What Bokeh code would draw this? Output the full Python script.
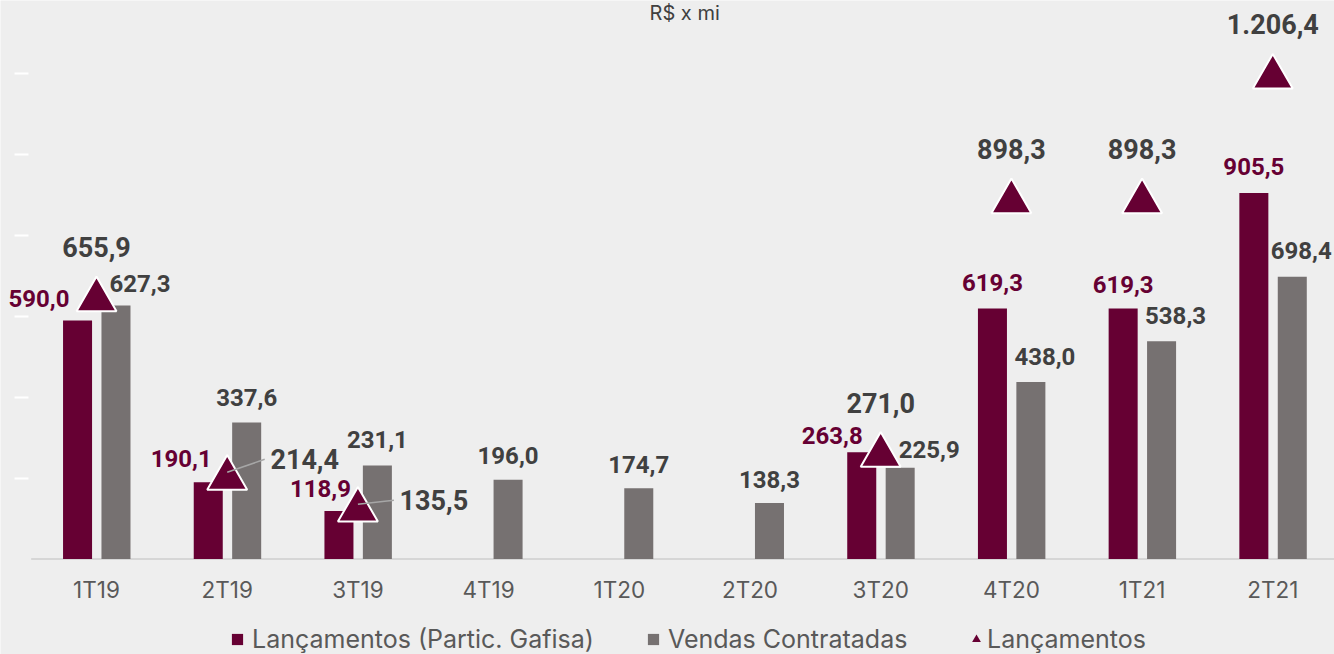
import numpy as np
from bokeh.plotting import figure
from bokeh.models import Range1d, FixedTicker, ColumnDataSource, Legend, LegendItem, LinearAxis
from bokeh.core.properties import value
from bokeh.embed import file_html
from bokeh.resources import INLINE

# ---------------- data ----------------
categories = ["1T19", "2T19", "3T19", "4T19", "1T20", "2T20", "3T20", "4T20", "1T21", "2T21"]
lanc_gafisa = [590.0, 190.1, 118.9, 0.0, 0.0, 0.0, 263.8, 619.3, 619.3, 905.5]
vendas = [627.3, 337.6, 231.1, 196.0, 174.7, 138.3, 225.9, 438.0, 538.3, 698.4]
lanc_total = [655.9, 214.4, 135.5, None, None, None, 271.0, 898.3, 898.3, 1206.4]
y_ticks = [200, 400, 600, 800, 1000, 1200]

# ---------------- label placement (style, screen px; dy = up) ----------------
gafisa_dx = [-38.5, -27, -18.5, 0, 0, 0, -29.5, 0, 0, 0]
gafisa_dy = [22, 24, 22, 0, 0, 0, 17, 26, 24, 26]
vendas_dx = [24, 0, 0, 0, 0, 0, 29, 14, 14, 9]
vendas_dy = [22, 25, 26, 24, 24, 24, 18, 25, 26, 26]
total_dx = [0, 77.5, 76, 0, 0, 0, 0, 0, 0, 0]
total_dy = [47, 13, 4, 0, 0, 0, 46, 47, 47, 47]

MAROON = "#660033"
GRAY = "#767171"
DARK = "#404040"
AXIS_TXT = "#595959"
BG = "#EEEEEE"

W, H = 1334, 654
X_STEP = 130.7          # px per category
X0 = 96.0               # px of first category from frame left
PXU = 0.4043            # px per data unit
BASE = 558.5            # px of y=0 from frame top

x_start = -X0 / X_STEP
x_end = x_start + W / X_STEP
y_end = BASE / PXU
y_start = -(H - BASE) / PXU

n = len(categories)
idx = list(range(n))


def fmt(v):
    s = f"{v:,.1f}"
    return s.replace(",", "X").replace(".", ",").replace("X", ".")


p = figure(width=W, height=H, output_backend="svg", toolbar_location=None,
           x_range=Range1d(x_start, x_end), y_range=Range1d(y_start, y_end),
           x_axis_location=None, y_axis_location=None, min_border=0,
           background_fill_color=BG, border_fill_color=BG, outline_line_color=None)
p.grid.visible = False

# x axis (category labels) fixed at y=0
xaxis = LinearAxis(fixed_location=0, ticker=FixedTicker(ticks=idx),
                   major_label_overrides={i: c for i, c in enumerate(categories)},
                   axis_line_color=None, major_tick_line_color=None, minor_tick_line_color=None,
                   major_label_standoff=11, major_label_text_font_size="22.5px",
                   major_label_text_color=AXIS_TXT, major_label_text_font="Inter")
p.add_layout(xaxis, "below")

# faint white y ticks on the left
yaxis = LinearAxis(fixed_location=x_start + 28 / X_STEP, ticker=FixedTicker(ticks=y_ticks),
                   axis_line_color=None, major_tick_line_color="white", major_tick_line_width=2,
                   major_tick_in=0, major_tick_out=14, minor_tick_line_color=None,
                   major_label_text_alpha=0, major_label_text_font_size="1px")
p.add_layout(yaxis, "left")

# baseline
p.segment(x0=[-0.5], x1=[n - 0.5], y0=[0], y1=[0], line_color="#D6D6D6", line_width=2)

OFF_G = -0.145
OFF_V = 0.149
BW = 0.222

src = ColumnDataSource(dict(
    xg=[i + OFF_G for i in idx], xv=[i + OFF_V for i in idx], x=idx,
    gafisa=lanc_gafisa, vendas=vendas,
))
r_g = p.vbar(x="xg", top="gafisa", width=BW, source=src, fill_color=MAROON, line_color=None)
r_v = p.vbar(x="xv", top="vendas", width=BW, source=src, fill_color=GRAY, line_color=None)

# triangle markers (box centred on the value)
tri_size = 40
tri_shift = (tri_size * 0.866 / 6) / PXU
tot_vals = [np.nan if v is None else v for v in lanc_total]
tri_src = ColumnDataSource(dict(x=idx, y=[v - tri_shift for v in tot_vals]))
r_t = p.scatter(x="x", y="y", source=tri_src, marker="triangle", size=tri_size,
                fill_color=MAROON, line_color="white", line_width=2)
# legend proxy (solid small triangle, a single undrawn NaN point)
r_t_leg = p.scatter(x=[np.nan], y=[np.nan], marker="triangle", size=8,
                    fill_color=MAROON, line_color=None)

# leader lines for side labels
lx0, lx1, ly0, ly1 = [], [], [], []
for i, v in enumerate(lanc_total):
    if v is not None and total_dx[i] != 0:
        lx0.append(i)
        ly0.append(v)
        lx1.append(i + (total_dx[i] - 40) / X_STEP)
        ly1.append(v + total_dy[i] / PXU)
p.segment(x0=lx0, x1=lx1, y0=ly0, y1=ly1, line_color="#A6A6A6", line_width=1.5)

# labels
gx, gy, gt, gdx, gdy = [], [], [], [], []
for i, v in enumerate(lanc_gafisa):
    if v > 0:
        gx.append(i + OFF_G); gy.append(v); gt.append(fmt(v))
        gdx.append(gafisa_dx[i]); gdy.append(-gafisa_dy[i])
p.text(x=gx, y=gy, text=gt, x_offset=gdx, y_offset=gdy, text_align="center",
       text_baseline="middle", text_font=value("Roboto"), text_font_style="bold",
       text_font_size="24px", text_color=MAROON)

p.text(x=[i + OFF_V for i in idx], y=vendas, text=[fmt(v) for v in vendas],
       x_offset=vendas_dx, y_offset=[-d for d in vendas_dy], text_align="center",
       text_baseline="middle", text_font=value("Roboto"), text_font_style="bold",
       text_font_size="24px", text_color=DARK)

tx, ty, tt, tdx, tdy = [], [], [], [], []
for i, v in enumerate(lanc_total):
    if v is not None:
        tx.append(i); ty.append(v); tt.append(fmt(v))
        tdx.append(total_dx[i]); tdy.append(-total_dy[i])
p.text(x=tx, y=ty, text=tt, x_offset=tdx, y_offset=tdy, text_align="center",
       text_baseline="middle", text_font=value("Roboto"), text_font_style="bold",
       text_font_size="27px", text_color=DARK)

# unit caption at top
p.text(x=[(n - 1) / 2], y=[y_end], text=["R$ x mi"], text_align="center", text_baseline="top",
       text_font=value("Inter"), text_font_size="20px", text_color=DARK)

legend_style = dict(orientation="horizontal", padding=0, margin=0,
                    background_fill_alpha=0, border_line_alpha=0,
                    label_text_font="Inter", label_text_font_size="25px",
                    label_text_color=AXIS_TXT)
legend1 = Legend(items=[
    LegendItem(label="Lançamentos (Partic. Gafisa)", renderers=[r_g]),
    LegendItem(label="Vendas Contratadas", renderers=[r_v]),
], location=(230, 0), glyph_width=14, glyph_height=14, label_standoff=8, spacing=52,
    **legend_style)
legend2 = Legend(items=[
    LegendItem(label="Lançamentos", renderers=[r_t_leg]),
], location=(965, 0), glyph_width=22, glyph_height=22, label_standoff=-2, spacing=0,
    **legend_style)
p.add_layout(legend1)
p.add_layout(legend2)

open("out.html", "w").write(file_html(p, INLINE))
